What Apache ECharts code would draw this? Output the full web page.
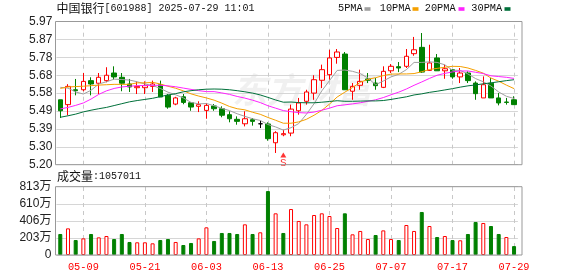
<!DOCTYPE html>
<html><head><meta charset="utf-8">
<script src="https://cdn.jsdelivr.net/npm/echarts@6/dist/echarts.min.js"></script>
<style>html,body{margin:0;padding:0;background:#fff}#c{width:578px;height:276px}</style>
</head><body><div id="c"></div>
<script>
// ---- data ----
const dates = ['05-06','05-07','05-08','05-09','05-12','05-13','05-14','05-15','05-16','05-19','05-20','05-21','05-22','05-23','05-26','05-27','05-28','05-29','05-30',
'06-03','06-04','06-05','06-06','06-09','06-10','06-11','06-12','06-13','06-16','06-17','06-18','06-19','06-20','06-23','06-24','06-25','06-26','06-27','06-30',
'07-01','07-02','07-03','07-04','07-07','07-08','07-09','07-10','07-11','07-14','07-15','07-16','07-17','07-18','07-21','07-22','07-23','07-24','07-25','07-28','07-29'];
const labelDates = ['05-09','05-21','06-03','06-13','06-25','07-07','07-17','07-29'];
const opens  = [5.549,5.523,5.603,5.603,5.652,5.638,5.652,5.693,5.670,5.634,5.614,5.614,5.621,5.630,5.573,5.526,5.565,5.533,5.514,5.492,
5.516,5.501,5.469,5.444,5.420,5.442,5.420,5.419,5.318,5.361,5.370,5.490,5.541,5.585,5.654,5.684,5.777,5.795,5.595,5.627,
5.661,5.639,5.616,5.705,5.727,5.729,5.797,5.831,5.707,5.774,5.705,5.711,5.672,5.693,5.639,5.559,5.638,5.559,5.537,5.549];
const closes = [5.490,5.621,5.598,5.648,5.634,5.670,5.681,5.672,5.638,5.618,5.621,5.625,5.634,5.564,5.510,5.559,5.535,5.510,5.523,5.519,
5.501,5.466,5.447,5.433,5.447,5.433,5.420,5.340,5.372,5.367,5.499,5.532,5.591,5.657,5.711,5.774,5.806,5.603,5.621,5.648,
5.654,5.625,5.702,5.729,5.720,5.783,5.818,5.698,5.747,5.705,5.716,5.672,5.693,5.652,5.582,5.630,5.559,5.532,5.535,5.523];
const lows   = [5.451,5.466,5.573,5.595,5.573,5.580,5.643,5.657,5.595,5.591,5.580,5.580,5.591,5.564,5.501,5.520,5.525,5.490,5.483,5.447,
5.490,5.455,5.428,5.415,5.406,5.410,5.397,5.329,5.263,5.353,5.353,5.469,5.523,5.549,5.612,5.657,5.743,5.603,5.549,5.603,
5.639,5.603,5.612,5.693,5.698,5.720,5.786,5.693,5.705,5.705,5.662,5.662,5.639,5.639,5.549,5.559,5.559,5.519,5.523,5.523];
const highs  = [5.549,5.633,5.661,5.693,5.670,5.693,5.724,5.729,5.693,5.661,5.648,5.648,5.652,5.652,5.580,5.565,5.580,5.535,5.541,5.532,
5.526,5.514,5.487,5.460,5.487,5.451,5.437,5.428,5.380,5.388,5.523,5.559,5.603,5.681,5.738,5.818,5.822,5.806,5.639,5.711,
5.693,5.666,5.729,5.741,5.752,5.822,5.887,5.908,5.845,5.795,5.738,5.712,5.720,5.702,5.648,5.675,5.666,5.585,5.559,5.568];
const ma5  = [5.616,5.612,5.591,5.580,5.600,5.634,5.646,5.660,5.658,5.655,5.646,5.634,5.626,5.610,5.590,5.576,5.559,5.535,5.527,5.529,
5.517,5.503,5.491,5.474,5.460,5.447,5.438,5.416,5.403,5.386,5.399,5.421,5.471,5.528,5.597,5.652,5.707,5.709,5.702,5.690,
5.666,5.630,5.650,5.672,5.686,5.711,5.750,5.750,5.753,5.750,5.737,5.708,5.707,5.688,5.663,5.646,5.623,5.591,5.568,5.556];
const ma10 = [5.610,5.618,5.620,5.622,5.625,5.628,5.630,5.632,5.632,5.632,5.640,5.640,5.643,5.634,5.622,5.611,5.597,5.581,5.569,5.559,
5.547,5.531,5.513,5.501,5.495,5.482,5.471,5.454,5.439,5.423,5.423,5.430,5.444,5.466,5.492,5.526,5.564,5.590,5.615,5.643,
5.659,5.668,5.679,5.687,5.688,5.688,5.690,5.700,5.712,5.718,5.724,5.729,5.728,5.720,5.707,5.692,5.666,5.649,5.628,5.609];
const ma20 = [5.500,5.508,5.519,5.532,5.553,5.578,5.597,5.610,5.618,5.622,5.625,5.626,5.627,5.627,5.624,5.619,5.612,5.605,5.598,5.593,
5.593,5.586,5.578,5.567,5.558,5.547,5.534,5.517,5.504,5.491,5.485,5.480,5.478,5.483,5.493,5.504,5.517,5.522,5.527,5.533,
5.541,5.549,5.561,5.576,5.590,5.607,5.627,5.645,5.664,5.681,5.691,5.699,5.704,5.704,5.697,5.690,5.678,5.674,5.670,5.664];
const ma30 = [5.455,5.463,5.472,5.484,5.493,5.501,5.508,5.518,5.528,5.538,5.545,5.551,5.557,5.566,5.575,5.582,5.592,5.598,5.603,5.606,
5.607,5.606,5.603,5.598,5.592,5.585,5.575,5.562,5.548,5.536,5.537,5.534,5.533,5.533,5.536,5.540,5.544,5.541,5.541,5.542,
5.543,5.543,5.545,5.551,5.558,5.565,5.575,5.581,5.589,5.595,5.602,5.609,5.617,5.624,5.629,5.635,5.640,5.646,5.652,5.657];
// volume in 万
const volumes = [250,317,178,198,250,210,226,190,250,155,151,151,139,178,190,155,119,143,198,329,
167,262,262,250,365,250,270,761,496,262,547,405,365,476,496,464,321,496,246,286,
190,238,293,190,178,357,286,512,345,214,226,178,175,250,393,381,345,250,214,106];
// 1 = red (up), 0 = green (down)
const volumeUp = [0,1,0,1,0,1,1,0,0,0,1,1,1,0,0,1,0,0,1,1,
0,0,0,0,1,0,1,0,1,0,1,1,1,1,1,1,1,0,1,1,
1,0,1,1,0,1,1,0,1,0,1,0,1,0,0,1,0,0,1,0];
const priceTicks = ['5.20','5.30','5.39','5.49','5.58','5.68','5.78','5.87','5.97'];
const volumeTicks = ['0','203万','406万','610万','813万'];
const maNames = ['5PMA','10PMA','20PMA','30PMA'];
const signalDates = ['06-17'];
const signalPrices = [5.252];

// ---- chart ----
const maColors = ['#a0a0a0','#f5a000','#ff22ff','#00703a'];
const RED = '#ff0000', GREEN = '#008000';
const chart = echarts.init(document.getElementById('c'), null, {renderer:'canvas'});
const gridL = 56.45, gridR = 578 - 517.9;
const mono = 'Liberation Mono';
const candleData = dates.map((d,i)=>[opens[i], closes[i], lows[i], highs[i]]);
const volData = volumes.map((v,i)=>({value:v, itemStyle: volumeUp[i] ? {color:'#fff', borderColor:RED, borderWidth:1} : {color:GREEN, borderColor:GREEN, borderWidth:1}}));
const vLines = labelDates.map(d=>({xAxis:d}));
const markLineStyle = {symbol:['none','none'], silent:true, animation:false, z:1, label:{show:false},
  lineStyle:{type:[4,4], color:'#c8c8c8', width:1}, data:vLines};

const legendGraphics = [];
const legendX = [338, 379.7, 424.7, 471.3];
const legendRectX = [364.5, 412.5, 458.5, 504.5];
maNames.forEach((n,i)=>{
  legendGraphics.push({type:'text', left:legendX[i], top:3.5, style:{text:n, font:'10.3px "Liberation Mono"', fill:'#111'}});
  legendGraphics.push({type:'rect', shape:{x:legendRectX[i], y:7.2, width:6, height:3.6}, style:{fill:maColors[i]}});
});

const option = {
  animation:false,
  backgroundColor:'#fff',
  grid:[
    {left:gridL, right:gridR, top:21.5, height:143.2},
    {left:gridL, right:gridR, top:186.7, height:68.3}
  ],
  xAxis:[
    {type:'category', gridIndex:0, data:dates, boundaryGap:true, axisLine:{show:false}, axisTick:{show:false}, axisLabel:{show:false}, splitLine:{show:false}},
    {type:'category', gridIndex:1, data:dates, boundaryGap:true, axisLine:{show:false}, axisTick:{show:false}, splitLine:{show:false},
     axisLabel:{interval:(i,v)=>labelDates.indexOf(v)>=0, color:RED, fontFamily:mono, fontSize:10.3, margin:7}}
  ],
  yAxis:[
    {type:'value', gridIndex:0, min:5.2, max:5.97, interval:0.09625, axisLine:{show:false}, axisTick:{show:false},
     splitLine:{lineStyle:{color:'#d6d6d6', width:1}},
     axisLabel:{formatter:(v,i)=>priceTicks[i], margin:4, fontSize:12, color:'#222', fontFamily:'Liberation Sans'}},
    {type:'value', gridIndex:1, min:0, max:812.8, interval:203.2, axisLine:{show:false}, axisTick:{show:false},
     splitLine:{lineStyle:{color:'#d6d6d6', width:1}},
     axisLabel:{formatter:(v,i)=>volumeTicks[i], margin:5, fontSize:12, color:'#222', fontFamily:'Liberation Sans, Noto Sans CJK SC'}}
  ],
  graphic:[
    {type:'text', left:232, top:72, z:-10, style:{text:'东方财富', font:'italic bold 35px "Noto Sans CJK SC"', fill:'rgba(0,0,0,0.06)'}},
    {type:'rect', z:50, shape:{x:55.5, y:21.5, width:466.5, height:143.2}, style:{fill:'none', stroke:'#999', lineWidth:1}},
    {type:'rect', z:50, shape:{x:55.5, y:186.7, width:466.5, height:68.3}, style:{fill:'none', stroke:'#999', lineWidth:1}},
    {type:'text', left:56.5, top:2.5, style:{rich:{c:{fontFamily:'Noto Sans CJK SC', fontSize:12, fill:'#111'}, m:{fontFamily:mono, fontSize:10, fill:'#111'}}, text:'{c|中国银行}{m|[601988] 2025-07-29 11:01}'}},
    {type:'text', left:57, top:170.5, style:{rich:{c:{fontFamily:'Noto Sans CJK SC', fontSize:12, fill:'#111'}, m:{fontFamily:mono, fontSize:10, fill:'#111'}}, text:'{c|成交量}{m|:1057011}'}},
    ...legendGraphics
  ],
  series:[
    {type:'line', xAxisIndex:0, yAxisIndex:0, data:[], z:1, markLine:markLineStyle},
    {type:'line', xAxisIndex:1, yAxisIndex:1, data:[], z:1, markLine:markLineStyle},
    {name:'K', type:'candlestick', xAxisIndex:0, yAxisIndex:0, data:candleData, barWidth:5, z:3,
     itemStyle:{color:'#fff', color0:GREEN, borderColor:RED, borderColor0:GREEN, borderColorDoji:'#000', borderWidth:1}},
    ...[ma5,ma10,ma20,ma30].map((d,i)=>({name:maNames[i], type:'line', xAxisIndex:0, yAxisIndex:0, data:d, z:4,
      symbol:'none', showSymbol:false, silent:true, lineStyle:{color:maColors[i], width:1}})),
    {type:'scatter', xAxisIndex:0, yAxisIndex:0, z:5, data:signalDates.map((d,i)=>[d, signalPrices[i]]),
     symbol:'triangle', symbolSize:[6,5], itemStyle:{color:RED},
     label:{show:true, position:'bottom', distance:0, formatter:'S', color:RED, fontFamily:mono, fontSize:11}},
    {type:'bar', xAxisIndex:1, yAxisIndex:1, data:volData, barWidth:4, z:3}
  ]
};
chart.setOption(option);
</script>
</body></html>
